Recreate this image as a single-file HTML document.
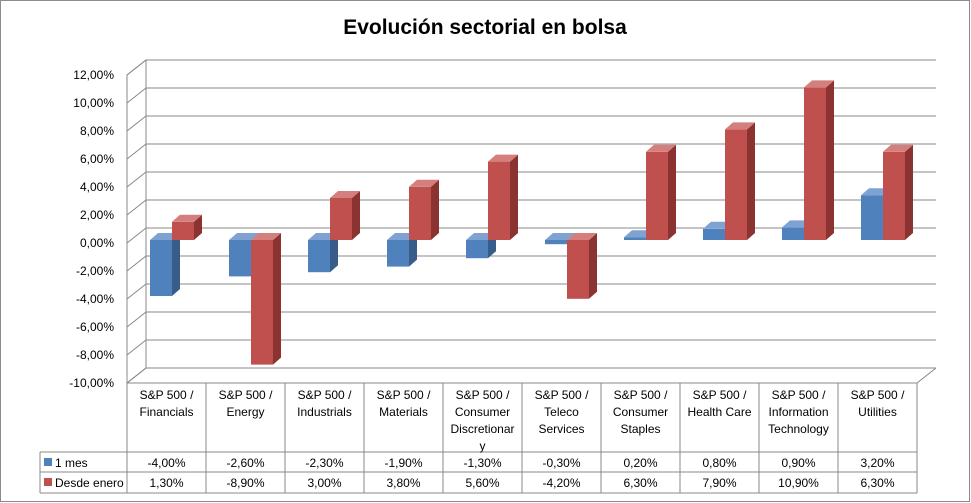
<!DOCTYPE html>
<html><head><meta charset="utf-8"><style>
body{margin:0;background:#fff}
svg{display:block;font-family:"Liberation Sans","DejaVu Sans",sans-serif}
</style></head><body>
<svg id="c" width="971" height="503" viewBox="0 0 971 503">
<rect x="0.5" y="0.5" width="969" height="501" fill="#fff" stroke="#8c8c8c"/>
<text x="485" y="34" text-anchor="middle" font-size="21" font-weight="bold" fill="#000">Evolución sectorial en bolsa</text>
<g id="grid"></g><g id="bars"></g><g id="table"></g>
</svg>
<script>
const categories=[["S&P 500 /","Financials"],["S&P 500 /","Energy"],["S&P 500 /","Industrials"],["S&P 500 /","Materials"],["S&P 500 /","Consumer","Discretionar","y"],["S&P 500 /","Teleco","Services"],["S&P 500 /","Consumer","Staples"],["S&P 500 /","Health Care"],["S&P 500 /","Information","Technology"],["S&P 500 /","Utilities"]];
const seriesNames=["1 mes","Desde enero"];
const mes=[-4.0,-2.6,-2.3,-1.9,-1.3,-0.3,0.2,0.8,0.9,3.2];
const enero=[1.3,-8.9,3.0,3.8,5.6,-4.2,6.3,7.9,10.9,6.3];
const ticks=[12,10,8,6,4,2,0,-2,-4,-6,-8,-10];
const NS="http://www.w3.org/2000/svg";
const X0=127,X1=917,DX=19,DY=-15;
const colW=(X1-X0)/categories.length;
const y=v=>243-v*14;
const fmt=v=>v.toFixed(2).replace('.',',')+'%';
function el(tag,attrs,parent,txt){const e=document.createElementNS(NS,tag);for(const k in attrs)e.setAttribute(k,attrs[k]);if(txt!==undefined)e.textContent=txt;parent.appendChild(e);return e;}
const G=document.getElementById('grid'),B=document.getElementById('bars'),T=document.getElementById('table');
el('polygon',{points:`${X0},${y(-10)} ${X0+DX},${y(-10)+DY} ${X0+DX},${y(12)+DY} ${X0},${y(12)}`,fill:'none',stroke:'#888'},G);
ticks.forEach(t=>{
 const yy=y(t);
 const g=el('polyline',{points:`${X0},${yy} ${X0+DX},${yy+DY} ${X1+DX},${yy+DY}`,fill:'none',stroke:'#888','stroke-width':1},G);
 
 
 const l=el('text',{x:114,y:yy+4,'text-anchor':'end','font-size':12,fill:'#000'},G,fmt(t));
 
 
});
el('polyline',{points:`${X0},${y(-10)} ${X1},${y(-10)} ${X1+DX},${y(-10)+DY}`,fill:'none',stroke:'#888'},G);
const BW=22,BD=8,BDY=-7,OX=0,OY=-3;
const colors=[["#4F81BD","#385D8A","#7EA3D3"],["#C0504D","#8B3331","#D47F7D"]];
function bar(ci,si,v){
 const x=X0+ci*colW+23+si*22+OX;
 const y0=y(0)+OY,y1=y(v)+OY;
 const top=Math.min(y0,y1),bot=Math.max(y0,y1);
 const c=colors[si];
 const g=el('g',{},B);
 
 
 el('rect',{x:x,y:top,width:BW,height:Math.max(bot-top,0.5),fill:c[0]},g);
 el('polygon',{points:`${x+BW},${top} ${x+BW+BD},${top+BDY} ${x+BW+BD},${bot+BDY} ${x+BW},${bot}`,fill:c[1]},g);
 el('polygon',{points:`${x},${top} ${x+BD},${top+BDY} ${x+BW+BD},${top+BDY} ${x+BW},${top}`,fill:c[2]},g);
}
categories.forEach((c,i)=>{bar(i,0,mes[i]);bar(i,1,enero[i]);});
const ty0=383,ty1=452,ty2=472,ty3=493,TL=40;
const st={stroke:'#888','stroke-width':1};
for(let i=0;i<=categories.length;i++){const x=X0+i*colW;el('line',Object.assign({x1:x,y1:ty0,x2:x,y2:ty3},st),T);}
el('line',Object.assign({x1:TL,y1:ty1,x2:X1,y2:ty1},st),T);
el('line',Object.assign({x1:TL,y1:ty2,x2:X1,y2:ty2},st),T);
el('line',Object.assign({x1:TL,y1:ty3,x2:X1,y2:ty3},st),T);
el('line',Object.assign({x1:TL,y1:ty1,x2:TL,y2:ty3},st),T);
categories.forEach((c,i)=>{
 const cx=X0+(i+.5)*colW;
 c.forEach((ln,j)=>{const t=el('text',{x:cx,y:ty0+16+j*17,'text-anchor':'middle','font-size':12,fill:'#000'},T,ln);
  
  });
 [mes,enero].forEach((arr,s)=>{const t=el('text',{x:cx,y:(s?ty2:ty1)+15,'text-anchor':'middle','font-size':12,fill:'#000'},T,fmt(arr[i]));
  
  });
});
seriesNames.forEach((n,s)=>{
 const yy=s?ty2:ty1;
 const k=el('rect',{x:44,y:yy+6,width:8,height:8,fill:colors[s][0]},T);
 
 
 const t=el('text',{x:55,y:yy+15,'font-size':12,fill:'#000'},T,n);
 
 
});
</script>
</body></html>
